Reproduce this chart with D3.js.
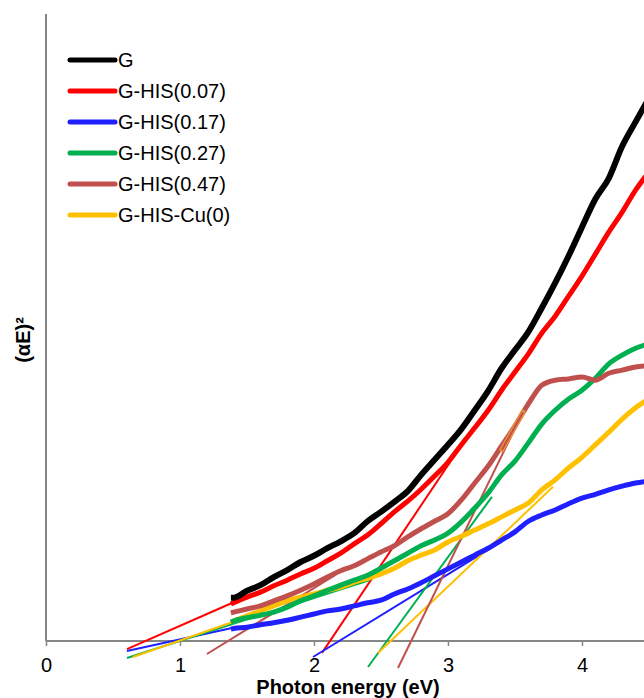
<!DOCTYPE html>
<html>
<head>
<meta charset="utf-8">
<script src="https://cdn.jsdelivr.net/npm/d3@7"></script>
<style>
  html, body { margin: 0; padding: 0; background: #fff; }
  svg { display: block; font-family: "Liberation Sans", Arial, sans-serif; }
</style>
</head>
<body>
<svg id="chart" width="644" height="698"></svg>
<script>
// Photon energy grid (eV) shared by all measured spectra
const energy = [1.38, 1.4, 1.5, 1.6, 1.7, 1.8, 1.9, 2.0, 2.1, 2.2, 2.3, 2.4, 2.5, 2.6, 2.7, 2.8, 2.9,
                3.0, 3.1, 3.2, 3.3, 3.4, 3.5, 3.6, 3.7, 3.8, 3.9, 4.0, 4.1, 4.2, 4.3, 4.4, 4.5];

// (αE)² in arbitrary units for each sample
const seriesNames = ["G", "G-HIS(0.07)", "G-HIS(0.17)", "G-HIS(0.27)", "G-HIS(0.47)", "G-HIS-Cu(0)"];
const seriesColors = ["#000000", "#ff0000", "#1f1fff", "#00b050", "#c0504d", "#ffc000"];

const valuesG    = [6.9, 6.9, 8.0, 8.9, 10.2, 11.3, 12.6, 13.6, 14.8, 15.9, 17.2, 19.1, 20.6, 22.2, 23.9, 26.5, 28.9,
                    31.3, 33.8, 36.8, 39.9, 43.5, 46.4, 49.3, 53.1, 57.1, 61.4, 66.0, 70.5, 73.8, 78.9, 82.8, 86.6];
const valuesH007 = [5.9, 6.1, 7.0, 7.8, 8.8, 9.7, 10.7, 11.6, 12.8, 14.0, 15.5, 16.9, 18.7, 20.6, 22.3, 24.2, 26.3,
                    28.5, 31.3, 34.0, 36.8, 40.0, 42.9, 45.8, 49.1, 51.8, 55.0, 58.2, 61.7, 65.2, 68.4, 71.9, 74.8];
const valuesH017 = [1.9, 2.0, 2.2, 2.6, 2.9, 3.3, 3.8, 4.3, 4.8, 5.1, 5.6, 6.1, 6.5, 7.5, 8.3, 9.3, 10.4,
                    11.5, 12.6, 13.7, 14.8, 16.1, 17.4, 19.1, 20.1, 20.9, 21.9, 22.8, 23.4, 24.1, 24.7, 25.2, 25.5];
const valuesH027 = [3.0, 3.2, 3.7, 4.1, 4.6, 5.4, 6.4, 7.2, 8.1, 8.9, 9.7, 10.5, 11.6, 12.8, 14.0, 15.2, 16.1,
                    17.2, 19.0, 21.2, 23.6, 26.5, 28.7, 31.6, 34.6, 36.8, 38.6, 40.0, 41.9, 44.2, 45.6, 46.7, 47.4];
const valuesH047 = [4.5, 4.6, 5.1, 5.6, 6.4, 7.2, 8.1, 9.1, 10.2, 11.2, 12.0, 13.1, 14.2, 15.2, 16.6, 17.9, 19.1,
                    20.3, 22.5, 25.2, 27.9, 31.1, 34.3, 37.8, 40.8, 41.6, 41.8, 42.1, 41.6, 42.7, 43.2, 43.7, 43.9];
const valuesCu0  = [3.0, 3.2, 4.0, 4.8, 5.6, 6.4, 7.0, 7.5, 8.1, 8.6, 9.4, 10.0, 10.7, 11.6, 12.8, 13.7, 14.5,
                    15.8, 16.7, 17.7, 18.7, 19.8, 20.9, 22.0, 24.1, 25.7, 27.6, 29.3, 31.3, 33.3, 35.4, 37.2, 38.6];

const seriesValues = [valuesG, valuesH007, valuesH017, valuesH027, valuesH047, valuesCu0];

// Linear extrapolations (Tauc fits): [x1, y1, x2, y2] with colour index
const fitLines = [
  { s: 1, pts: [0.604, -1.3, 1.388, 6.06] },
  { s: 1, pts: [2.06, -1.9, 3.015, 28.5] },
  { s: 2, pts: [0.604, -1.6, 1.388, 2.07] },
  { s: 2, pts: [1.993, -2.55, 3.5, 17.2] },
  { s: 3, pts: [0.604, -2.7, 2.418, 9.73] },
  { s: 3, pts: [2.403, -4.15, 3.328, 23.0] },
  { s: 5, pts: [0.649, -2.55, 1.388, 3.0] },
  { s: 5, pts: [2.478, -1.9, 3.784, 24.6] },
  { s: 4, pts: [1.201, -2.07, 2.157, 10.5] },
  { s: 4, pts: [2.627, -4.31, 3.56, 36.5] }
];
// Fitting window highlighted on the G-HIS(0.47) curve
const fitWindow = [3.403, 30.5, 3.56, 36.5];

const xTicks = [0, 1, 2, 3, 4];

const svg = d3.select("#chart");
const x = d3.scaleLinear().domain([0, 4.463]).range([46, 644]);
const y = d3.scaleLinear().domain([0, 100]).range([641, 14]);

const axisColor = "#868686";

// Axes
svg.append("line")
  .attr("x1", x(0)).attr("x2", x(0))
  .attr("y1", y(100)).attr("y2", y(0))
  .attr("stroke", axisColor).attr("stroke-width", 2);

const xAxis = d3.axisBottom(x).tickValues(xTicks).tickFormat(d3.format("d")).tickSize(5).tickSizeOuter(0);
const gx = svg.append("g").attr("transform", `translate(0,${y(0)})`).call(xAxis);
gx.select(".domain").attr("stroke", axisColor).attr("stroke-width", 2)
  .attr("d", `M${x(0)},0H644`);
gx.selectAll(".tick line").attr("stroke", axisColor).attr("stroke-width", 1.5);
gx.selectAll(".tick text").attr("fill", "#000").attr("font-size", 20)
  .attr("font-family", "Liberation Sans, Arial, sans-serif")
  .attr("y", 31).attr("dy", 0);

// Axis titles
svg.append("text")
  .attr("x", 348).attr("y", 694)
  .attr("text-anchor", "middle")
  .attr("font-size", 20).attr("font-weight", "bold")
  .text("Photon energy (eV)");

svg.append("text")
  .attr("transform", "translate(30,340) rotate(-90)")
  .attr("text-anchor", "middle")
  .attr("font-size", 20).attr("font-weight", "bold")
  .text("(αE)²");

// Fit lines
const fitG = svg.append("g");
fitLines.forEach(f => {
  fitG.append("line")
    .attr("x1", x(f.pts[0])).attr("y1", y(f.pts[1]))
    .attr("x2", x(f.pts[2])).attr("y2", y(f.pts[3]))
    .attr("stroke", seriesColors[f.s]).attr("stroke-width", 2);
});

// Measured curves
const line = d3.line().x(d => x(d[0])).y(d => y(d[1])).curve(d3.curveMonotoneX);
const curveOrder = [2, 5, 3, 4, 1, 0];
curveOrder.forEach(i => {
  svg.append("path")
    .datum(energy.map((e, k) => [e, seriesValues[i][k]]))
    .attr("d", line)
    .attr("fill", "none")
    .attr("stroke", seriesColors[i])
    .attr("stroke-width", i === 0 ? 6 : 5)
    .attr("stroke-linejoin", "round");
});

// Highlighted fitting window
svg.append("line")
  .attr("x1", x(fitWindow[0])).attr("y1", y(fitWindow[1]))
  .attr("x2", x(fitWindow[2])).attr("y2", y(fitWindow[3]))
  .attr("stroke", "#e8913a").attr("stroke-width", 5).attr("stroke-linecap", "round");
svg.append("line")
  .attr("x1", x(fitWindow[0])).attr("y1", y(fitWindow[1]))
  .attr("x2", x(fitWindow[2])).attr("y2", y(fitWindow[3]))
  .attr("stroke", "#c0504d").attr("stroke-width", 2);

// Legend
const legend = svg.append("g").attr("transform", "translate(70,60)");
seriesNames.forEach((name, i) => {
  const g = legend.append("g").attr("transform", `translate(0,${i * 31})`);
  g.append("line").attr("x1", 0).attr("x2", 45).attr("y1", 0).attr("y2", 0)
    .attr("stroke", seriesColors[i]).attr("stroke-width", 5).attr("stroke-linecap", "round");
  g.append("text").attr("x", 48).attr("y", 7)
    .attr("font-size", 20).attr("fill", "#000").text(name);
});
</script>
</body>
</html>
